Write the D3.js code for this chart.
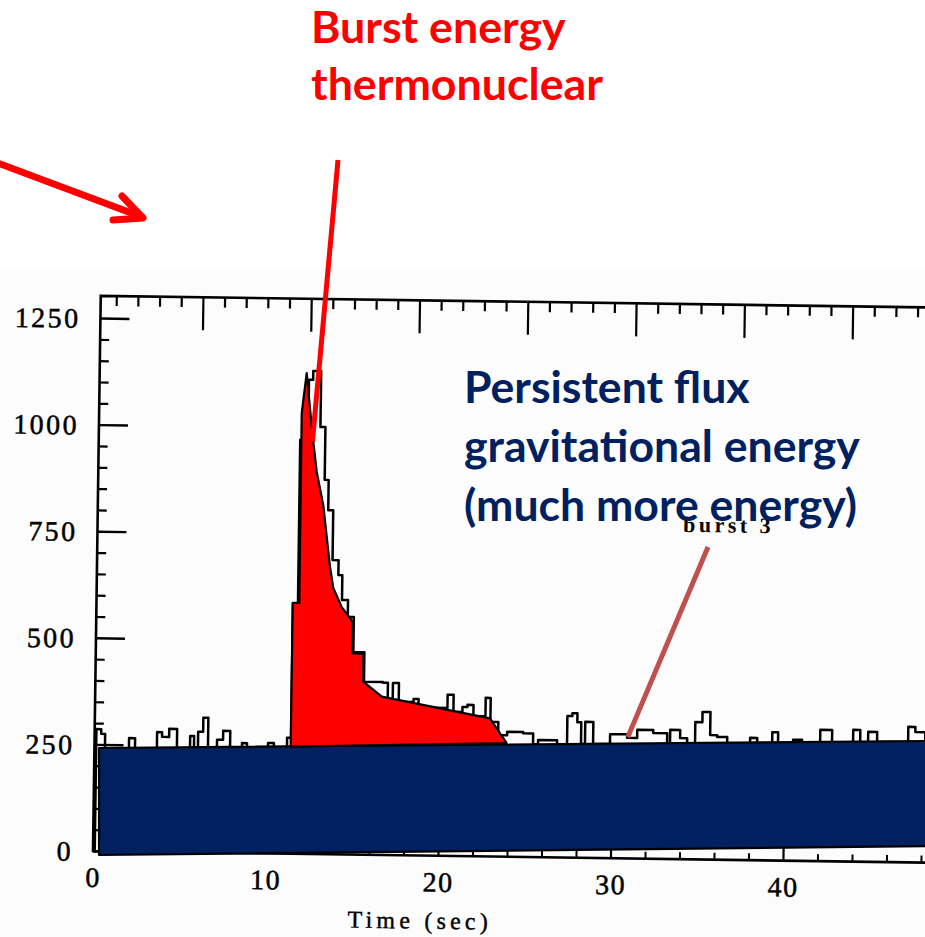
<!DOCTYPE html>
<html>
<head>
<meta charset="utf-8">
<script src="https://cdn.jsdelivr.net/npm/d3@7"></script>
<style>
  html, body { margin: 0; padding: 0; background: #ffffff; }
  svg { display: block; }
</style>
</head>
<body>
<svg id="chart" width="925" height="937"></svg>
<script>
// ---------------- DATA ----------------
// Light curve (counts per bin): bin edges (sec) and counts
const histEdges = [0.1, 0.38, 0.61, 2.0, 2.35, 3.62, 3.91, 4.32, 4.78, 5.54, 5.77, 6.0, 6.29, 6.58, 7.1, 7.45,
  7.86, 8.55, 8.84, 10.06, 10.4, 11.16, 11.39, 11.68, 11.91, 12.14, 12.38, 12.84, 13.13, 13.36, 13.65,
  14.0, 14.23, 14.58, 14.93, 15.57, 16.67, 16.96, 17.25, 17.6, 18.46, 18.75, 20.43, 20.78, 21.3, 21.59,
  21.94, 22.64, 22.93, 23.39, 23.91, 24.84, 25.42, 25.71, 26.81, 27.39, 27.68, 27.97, 28.2, 28.43, 28.9,
  29.88, 30.87, 31.45, 32.38, 33.19, 33.36, 33.94, 34.35, 34.81, 35.22, 35.68, 36.09, 36.67, 38.0, 38.41,
  39.28, 39.62, 40.49, 41.01, 42.06, 42.75, 43.97, 44.38, 44.84, 45.36, 47.16, 47.57, 48.15, 50];
const histCounts = [286, 275, 240, 266, 240, 281, 270, 289, 243, 273, 244, 283, 316, 245, 265, 286,
  246, 258, 247, 259, 248, 272, 588, 971, 1053, 1112, 1133, 1002, 878, 807,
  690, 655, 597, 557, 475, 406, 404, 366, 404, 360, 367, 347, 378, 338, 350,
  355, 329, 372, 316, 285, 293, 290, 265, 275, 266, 332, 339, 318, 267, 319,
  268, 291, 283, 302, 295, 270, 303, 284, 271, 322, 346, 292, 288, 272, 287,
  274, 301, 275, 284, 277, 308, 279, 309, 280, 305, 282, 318, 306, 284];

// Red "burst energy" outline (time sec, counts)
const burstTimes  = [11.46, 11.58, 11.96, 12.10, 12.39, 12.72, 12.97, 13.35, 13.74, 13.93, 14.42, 15.05, 15.05, 15.67, 15.67, 16.74, 23.01, 23.98];
const burstCounts = [244.6, 581.6, 581.6, 1027, 1121, 978, 889, 811, 666, 617, 572, 538, 464, 462, 397, 362, 311, 253];

// Navy "persistent flux" band (time sec, counts): top-left, top-right, bottom-right, bottom-left
const bandTimes  = [0.35, 48.8, 48.8, 0.35];
const bandCounts = [241.6, 258.2, 11.7, -9.4];

// Axis ticks
const yMajorTicks = [0, 250, 500, 750, 1000, 1250];
const yMinorTicks = d3.range(50, 1300, 50).filter(v => v % 250 !== 0);
const xMajorTicks = [0, 10, 20, 30, 40];
const xMinorTicks = d3.range(2, 50, 2).filter(v => v % 10 !== 0);
const topMajorTicks = [5, 10, 15, 20, 25, 30, 35, 40];
const topMinorTicks = d3.range(1, 40, 1).filter(v => v % 5 !== 0);

const xLabel = "Time (sec)";
const burstLabel = "burst 3";
const burstTitle = ["Burst energy", "thermonuclear"];
const persistTitle = ["Persistent flux", "gravitational energy", "(much more energy)"];

// ---------------- DRAW ----------------
const svg = d3.select('#chart');
const RED = '#ff0000', NAVY = '#002060', PTR = '#c0504d';

const x = d3.scaleLinear().domain([0, 50]).range([93, 955.5]);
const y = d3.scaleLinear().domain([0, 1250]).range([851, 318]);
const xTop = d3.scaleLinear().domain([0, 40]).range([86.9, 953.3]);
const yFrameTop = 1302;

// scanned-page background
svg.append('rect').attr('x', 0).attr('y', 268).attr('width', 925).attr('height', 669).attr('fill', '#fcfcfc');

// scanned plot (slightly rotated)
const scan = svg.append('g').attr('transform', 'rotate(0.8,93,851)');
const SCANFONT = '"Liberation Serif", "Times New Roman", serif';

// frame
scan.append('path')
  .attr('d', `M${x(50)},${y(yFrameTop)}L${x(0)},${y(yFrameTop)}L${x(0)},${y(0)}L${x(50)},${y(0)}`)
  .attr('fill', 'none').attr('stroke', '#000').attr('stroke-width', 2.6);

function styleAxis(g, w) {
  g.select('.domain').remove();
  g.selectAll('.tick line').attr('stroke', '#000').attr('stroke-width', w);
}
// left axis
scan.append('g').attr('transform', `translate(${x(0)},0)`)
  .call(d3.axisLeft(y).tickValues(yMajorTicks).tickSize(-29).tickPadding(20).tickFormat(d3.format('d')))
  .call(g => styleAxis(g, 2.4))
  .call(g => g.selectAll('text').attr('font-family', SCANFONT).attr('font-size', 28)
    .attr('letter-spacing', '2.4px').attr('fill', '#000').attr('stroke', '#000').attr('stroke-width', 0.5)
    .attr('dy', '0.34em'));
scan.append('g').attr('transform', `translate(${x(0)},0)`)
  .call(d3.axisLeft(y).tickValues(yMinorTicks).tickSize(-9).tickFormat(''))
  .call(g => styleAxis(g, 2.2));

// bottom axis
scan.append('g').attr('transform', `translate(0,${y(0)})`)
  .call(d3.axisBottom(x).tickValues(xMajorTicks).tickSize(-14).tickPadding(16).tickFormat(d3.format('d')))
  .call(g => styleAxis(g, 2.2))
  .call(g => g.selectAll('text').attr('font-family', SCANFONT).attr('font-size', 28)
    .attr('letter-spacing', '1.5px').attr('fill', '#000').attr('stroke', '#000').attr('stroke-width', 0.5));
scan.append('g').attr('transform', `translate(0,${y(0)})`)
  .call(d3.axisBottom(x).tickValues(xMinorTicks).tickSize(-7).tickFormat(''))
  .call(g => styleAxis(g, 2));

// top axis
scan.append('g').attr('transform', `translate(0,${y(yFrameTop)})`)
  .call(d3.axisTop(xTop).tickValues(topMajorTicks).tickSize(-33).tickFormat(''))
  .call(g => styleAxis(g, 2.2));
scan.append('g').attr('transform', `translate(0,${y(yFrameTop)})`)
  .call(d3.axisTop(xTop).tickValues(topMinorTicks).tickSize(-10).tickFormat(''))
  .call(g => styleAxis(g, 2.2));

// axis title
scan.append('text').attr('x', x(19)).attr('y', y(0) + 73)
  .attr('text-anchor', 'middle').attr('font-family', SCANFONT).attr('font-size', 24)
  .attr('letter-spacing', '4.2px').attr('fill', '#000').attr('stroke', '#000').attr('stroke-width', 0.4)
  .text(xLabel);

// histogram light curve
const n = Math.min(histCounts.length, histEdges.length - 1);
const histPts = [[histEdges[0], 0]];
for (let i = 0; i < n; i++) histPts.push([histEdges[i], histCounts[i]]);
histPts.push([histEdges[n], histCounts[n - 1]]);
const stepLine = d3.line().x(d => x(d[0])).y(d => y(d[1])).curve(d3.curveStepAfter);
scan.append('path').attr('d', stepLine(histPts))
  .attr('fill', 'none').attr('stroke', '#000').attr('stroke-width', 2.5).attr('stroke-linejoin', 'round');

// "burst 3" label on the scan
scan.append('text').attr('x', x(33.94)).attr('y', y(767.6))
  .attr('font-family', SCANFONT).attr('font-size', 22).attr('letter-spacing', '3.5px')
  .attr('font-weight', 'bold').attr('fill', '#000').text(burstLabel);

// ---------------- OVERLAYS ----------------
const poly = d3.line().x(d => x(d[0])).y(d => y(d[1]));
const bandPts = bandTimes.map((t, i) => [t, bandCounts[i]]);
svg.append('path').attr('d', poly(bandPts) + 'Z')
  .attr('fill', NAVY).attr('stroke', '#000').attr('stroke-width', 2.2).attr('stroke-linejoin', 'round');

const burstPts = burstTimes.map((t, i) => [t, burstCounts[i]]);
svg.append('path').attr('d', poly(burstPts) + 'Z')
  .attr('fill', RED).attr('stroke', '#000').attr('stroke-width', 2.2).attr('stroke-linejoin', 'round');

// pointer from burst title into the peak
svg.append('line').attr('x1', 338).attr('y1', 160).attr('x2', x(12.72)).attr('y2', y(960))
  .attr('stroke', RED).attr('stroke-width', 5);

// pointer to "burst 3"
svg.append('line').attr('x1', 708).attr('y1', 547).attr('x2', x(31.0)).attr('y2', y(267))
  .attr('stroke', PTR).attr('stroke-width', 5);

// top-left arrow
const arrow = svg.append('g').attr('stroke', RED).attr('stroke-width', 7)
  .attr('stroke-linecap', 'round').attr('stroke-linejoin', 'round').attr('fill', 'none');
arrow.append('path').attr('d', 'M-5,162L142,217');
arrow.append('path').attr('d', 'M122,196L143,218L113,220');

// titles
const TITLEFONT = 'Lato, Carlito, "Open Sans", sans-serif';
function block(lines, x0, y0, dy, color, fitIdx, fitW) {
  const g = svg.append('g');
  const t = g.selectAll('text').data(lines).join('text')
    .attr('x', x0).attr('y', (d, i) => y0 + i * dy)
    .attr('font-family', TITLEFONT).attr('font-weight', 700).attr('font-size', 36)
    .attr('fill', color).text(d => d);
  const w = t.nodes()[fitIdx].getComputedTextLength();
  const fs = 36 * fitW / w;
  t.attr('font-size', fs);
}
block(burstTitle, 311, 43, 57, RED, 1, 292);
block(persistTitle, 464, 403, 59, NAVY, 1, 396);
</script>
</body>
</html>
